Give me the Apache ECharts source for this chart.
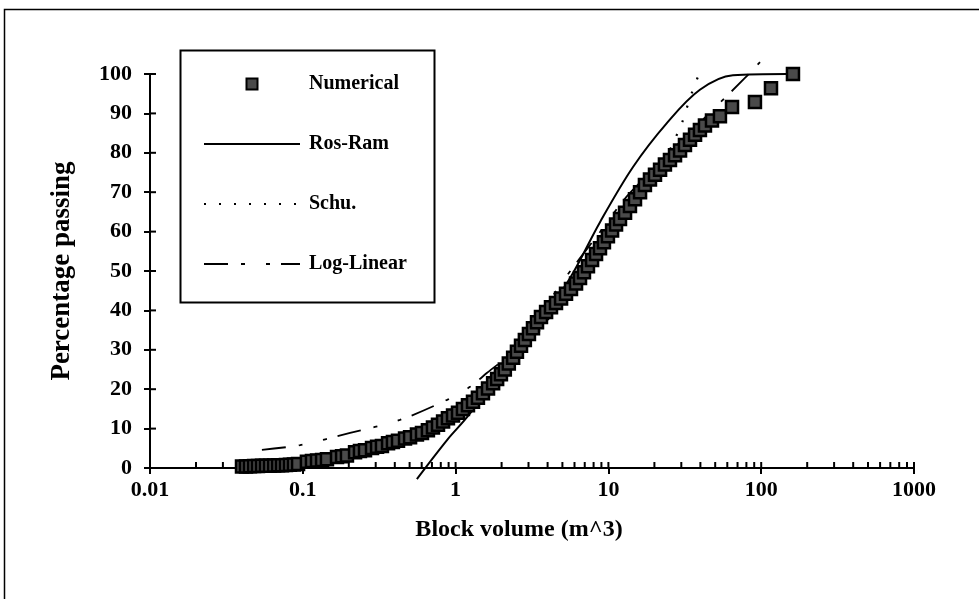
<!DOCTYPE html>
<html>
<head>
<meta charset="utf-8">
<script src="https://cdn.jsdelivr.net/npm/echarts@6/dist/echarts.min.js"></script>
<style>
  html, body { margin: 0; padding: 0; background: #ffffff; }
  #chart { width: 979px; height: 599px; }
</style>
</head>
<body>
<div id="chart"></div>
<script>
// Block volume (m^3) vs cumulative percentage passing
const numVolume = [
  0.040, 0.0425, 0.0451, 0.048, 0.0509, 0.0541, 0.0574, 0.061, 0.0649, 0.0689,
  0.0731, 0.0776, 0.0824, 0.0875, 0.0931,
  0.1064, 0.1148, 0.1239, 0.1337, 0.1439, 0.1675, 0.1807, 0.1945, 0.2198, 0.2366,
  0.2553, 0.2838, 0.3062, 0.3296, 0.3614, 0.389, 0.4198, 0.4667, 0.5035, 0.5585,
  0.6026, 0.659, 0.711, 0.767, 0.828, 0.891, 0.962, 1.037, 1.117, 1.205,
  1.30, 1.40, 1.51, 1.63, 1.76, 1.87, 1.98, 2.10, 2.23, 2.38,
  2.52, 2.68, 2.84, 3.02, 3.21, 3.41, 3.62, 3.91, 4.21, 4.54,
  4.90, 5.28, 5.69, 6.14, 6.52, 6.92, 7.35, 7.82, 8.30, 8.81,
  9.35, 9.93, 10.57, 11.22, 11.91, 12.85, 13.84, 14.93, 16.11, 17.34,
  18.71, 20.18, 21.78, 23.44, 25.29, 27.29, 29.44, 31.70, 34.20, 36.90,
  39.72, 42.85, 47.64, 53.70, 64.42, 91.0, 115.9, 161.4
];
const numPassing = [
  0.4, 0.4, 0.45, 0.5, 0.5, 0.55, 0.6, 0.6, 0.65, 0.7,
  0.7, 0.75, 0.8, 0.9, 1.0,
  1.6, 1.8, 1.9, 2.0, 2.2, 2.8, 3.0, 3.2, 4.0, 4.3,
  4.5, 5.1, 5.4, 5.6, 6.3, 6.6, 6.9, 7.5, 7.8, 8.5,
  8.9, 9.6, 10.3, 11.0, 11.8, 12.6, 13.3, 14.0, 15.0, 15.9,
  16.8, 17.8, 19.0, 20.2, 21.5, 22.6, 23.8, 25.0, 26.5, 28.0,
  29.5, 31.0, 32.5, 34.0, 35.5, 37.0, 38.3, 39.6, 40.8, 41.9,
  43.0, 44.2, 45.4, 46.8, 48.2, 49.7, 51.2, 52.8, 54.3, 55.8,
  57.3, 58.8, 60.3, 61.8, 63.2, 64.8, 66.5, 68.2, 70.0, 71.8,
  73.2, 74.4, 75.7, 77.0, 78.2, 79.4, 80.6, 82.0, 83.3, 84.6,
  85.8, 86.9, 88.2, 89.3, 91.6, 92.9, 96.4, 100
];

// Rosin-Rammler fit
const rosVolume  = [0.558, 0.879, 1.188, 1.954, 3.565, 5.61, 8.81, 14.49, 24.2, 39.7, 65.3, 147.5];
const rosPassing = [-2.8, 7.1, 12.9, 23.9, 37.0, 48.2, 62.4, 76.4, 87.6, 96.0, 99.7, 100];

// Schuhmann fit
const schuVolume  = [1.44, 2.26, 3.56, 5.56, 8.81, 13.84, 18.7, 24.2, 26.5, 30.3, 34.2, 41.0];
const schuPassing = [17.3, 25.4, 35.0, 45.2, 56.6, 66.8, 73.6, 79.4, 82.5, 87.6, 93.9, 102.0];

// Log-linear fit
const logLinVolume  = [0.054, 0.096, 0.204, 0.432, 0.88, 1.242, 1.60, 2.64, 4.82, 8.81, 13.84, 78.3, 98.2];
const logLinPassing = [4.6, 5.8, 8.9, 12.2, 17.3, 20.6, 24.1, 31.2, 46.4, 59.9, 69.8, 99.0, 103.0];

const xTickLabels = ['0.01', '0.1', '1', '10', '100', '1000'];
const yTickValues = [0, 10, 20, 30, 40, 50, 60, 70, 80, 90, 100];

const FONT = '"Liberation Serif", "Times New Roman", serif';

// inner (upward) tick marks of the log axis: decades and 2..9 subdivisions
const xInnerTicks = [];
for (let d = -2; d <= 2; d++) {
  for (let m = 1; m <= 9; m++) xInnerTicks.push([m * Math.pow(10, d), 0]);
}
xInnerTicks.push([1000, 0]);

const zip = (a, b) => a.map((v, i) => [v, b[i]]);

const chart = echarts.init(document.getElementById('chart'), null, { renderer: 'canvas' });

const hiddenSymbol = { opacity: 0 };

chart.setOption({
  backgroundColor: '#ffffff',
  animation: false,
  grid: { left: 150, right: 65, top: 74, bottom: 131, containLabel: false, outerBoundsMode: 'none' },
  xAxis: {
    type: 'log',
    logBase: 10,
    min: 0.01,
    max: 1000,
    splitNumber: 5,
    name: 'Block volume (m^3)',
    nameLocation: 'middle',
    nameGap: 50,
    nameTextStyle: { fontFamily: FONT, fontWeight: 'bold', fontSize: 24, color: '#000', padding: [0, 26, 0, 0] },
    axisLine: { onZero: false, lineStyle: { color: '#000', width: 2 } },
    axisTick: { show: true, length: 6, lineStyle: { color: '#000', width: 2 } },
    minorTick: { show: false },
    splitLine: { show: false },
    axisLabel: {
      margin: 11,
      fontFamily: FONT, fontWeight: 'bold', fontSize: 22, color: '#000',
      formatter: (v) => {
        const i = Math.round(Math.log10(v)) + 2;
        return xTickLabels[i] !== undefined ? xTickLabels[i] : '';
      }
    }
  },
  yAxis: {
    type: 'value',
    min: 0,
    max: 100,
    interval: 10,
    name: 'Percentage passing',
    nameLocation: 'middle',
    nameGap: 74,
    nameTextStyle: { fontFamily: FONT, fontWeight: 'bold', fontSize: 27, color: '#000' },
    axisLine: { show: true, onZero: false, lineStyle: { color: '#000', width: 2 } },
    axisTick: { show: true, length: 6, lineStyle: { color: '#000', width: 2 } },
    splitLine: { show: false },
    axisLabel: { margin: 18, fontFamily: FONT, fontWeight: 'bold', fontSize: 22, color: '#000' }
  },
  legend: {
    orient: 'vertical',
    left: 203,
    top: 74,
    padding: 0,
    itemWidth: 96,
    itemHeight: 11,
    itemGap: 40,
    selectedMode: false,
    data: [
      { name: 'Numerical', icon: 'path://M0,0h10v10h-10z' },
      { name: 'Ros-Ram', itemStyle: hiddenSymbol },
      { name: 'Schu.', itemStyle: hiddenSymbol },
      { name: 'Log-Linear', itemStyle: hiddenSymbol }
    ],
    textStyle: { fontFamily: FONT, fontWeight: 'bold', fontSize: 20, color: '#000', padding: [0, 0, 0, 4] }
  },
  graphic: [
    { type: 'rect', z: 100, shape: { x: 4.5, y: 9.5, width: 1000, height: 700 },
      style: { fill: 'none', stroke: '#000', lineWidth: 1.5 } },
    { type: 'rect', z: 100, shape: { x: 180.5, y: 50.5, width: 254, height: 252 },
      style: { fill: 'none', stroke: '#000', lineWidth: 2 } }
  ],
  series: [
    {
      name: 'Ros-Ram', type: 'line', data: zip(rosVolume, rosPassing),
      smooth: 0.35, symbol: 'none', clip: false, z: 2,
      lineStyle: { color: '#000', width: 2 }, itemStyle: { color: '#000' }
    },
    {
      name: 'Schu.', type: 'line', data: zip(schuVolume, schuPassing),
      smooth: 0.3, symbol: 'none', clip: false, z: 2,
      lineStyle: { color: '#000', width: 2.2, type: [2, 13] }, itemStyle: { color: '#000' }
    },
    {
      name: 'Log-Linear', type: 'line', data: zip(logLinVolume, logLinPassing),
      smooth: 0.3, symbol: 'none', clip: false, z: 2,
      lineStyle: { color: '#000', width: 1.8, type: [24, 13, 4, 21, 4, 11] }, itemStyle: { color: '#000' }
    },
    {
      name: 'Numerical', type: 'scatter', data: zip(numVolume, numPassing),
      symbol: 'rect', symbolSize: 12, clip: false, z: 3,
      itemStyle: { color: '#4a4a4a', borderColor: '#000', borderWidth: 2.5, opacity: 1 }
    },
    {
      name: 'xInnerTicks', type: 'custom', silent: true, z: 1,
      data: xInnerTicks,
      renderItem: (params, api) => {
        const p = api.coord([api.value(0), api.value(1)]);
        return { type: 'line', shape: { x1: p[0], y1: p[1], x2: p[0], y2: p[1] - 6 },
                 style: { stroke: '#000', lineWidth: 2 } };
      }
    },
    {
      name: 'yInnerTicks', type: 'custom', silent: true, z: 1,
      data: yTickValues.map(t => [0.01, t]),
      renderItem: (params, api) => {
        const p = api.coord([api.value(0), api.value(1)]);
        return { type: 'line', shape: { x1: p[0], y1: p[1], x2: p[0] + 6, y2: p[1] },
                 style: { stroke: '#000', lineWidth: 2 } };
      }
    }
  ]
});
</script>
</body>
</html>
